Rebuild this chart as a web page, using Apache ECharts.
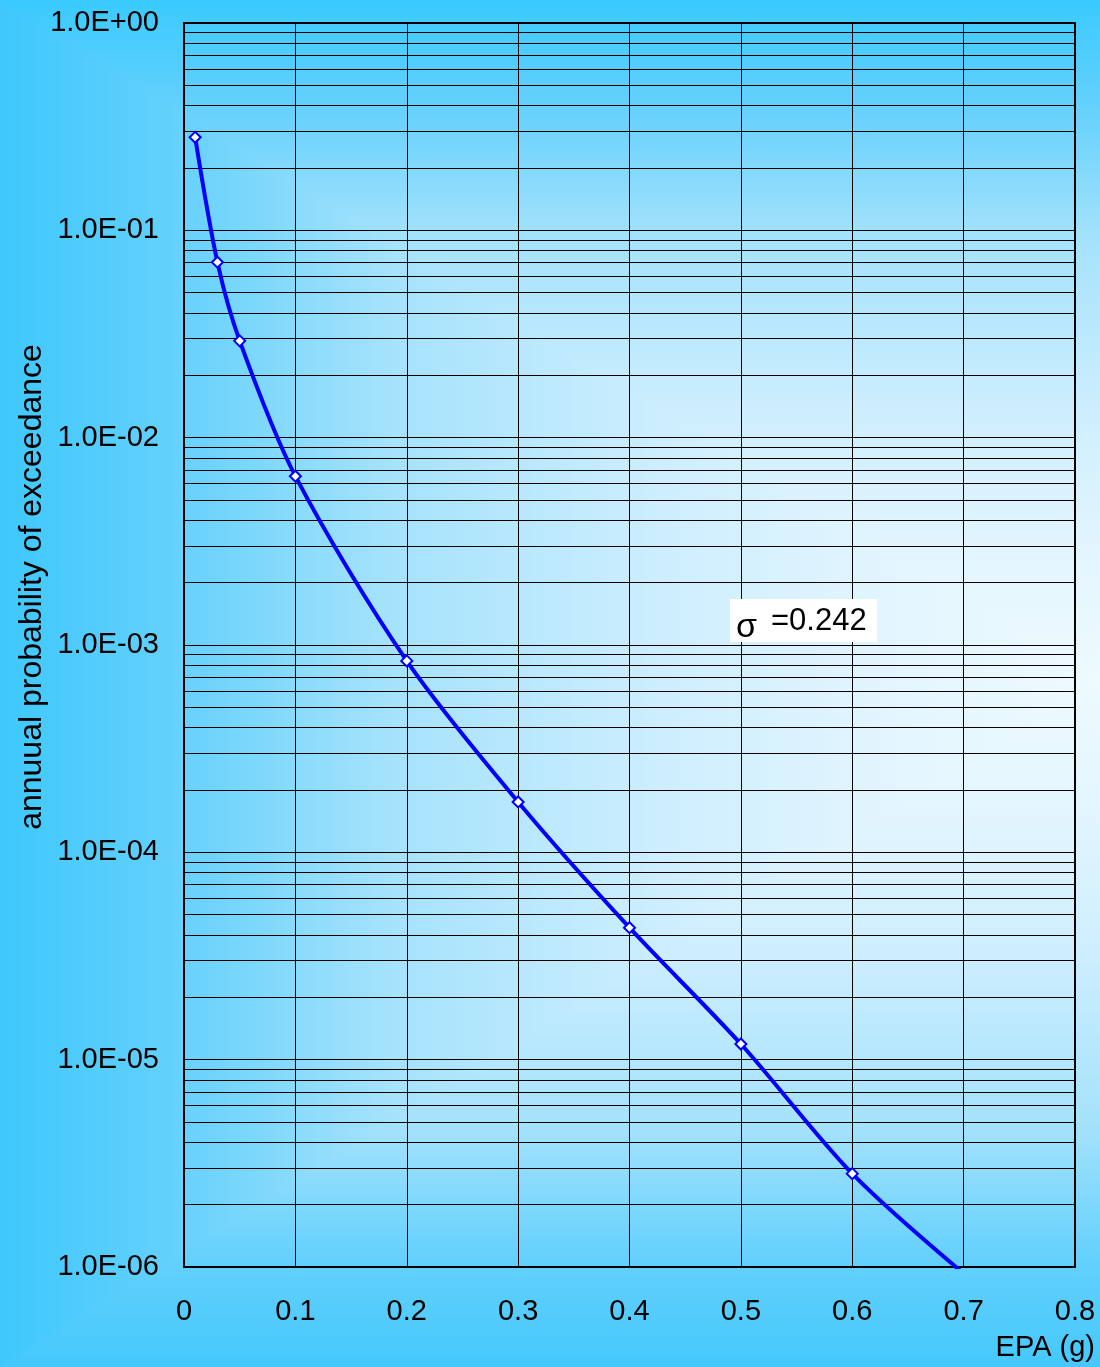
<!DOCTYPE html>
<html>
<head>
<meta charset="utf-8">
<script src="https://cdn.jsdelivr.net/npm/echarts@6/dist/echarts.min.js"></script>
<style>
  html, body { margin: 0; padding: 0; background: #3ccafd; }
  #chart { width: 1100px; height: 1367px; }
</style>
</head>
<body>
<div id="chart"></div>
<script>
// Hazard curve: EPA (g) vs annual probability of exceedance
const epa = [0.01, 0.03, 0.05, 0.1, 0.2, 0.3, 0.4, 0.5, 0.6, 0.7];
const exceedance = [0.281, 0.0702, 0.0293, 0.00652, 8.38e-4, 1.75e-4, 4.33e-5, 1.19e-5, 2.82e-6, 9.3e-7];
const xTickLabels = ['0', '0.1', '0.2', '0.3', '0.4', '0.5', '0.6', '0.7', '0.8'];
const yTickLabels = ['1.0E-06', '1.0E-05', '1.0E-04', '1.0E-03', '1.0E-02', '1.0E-01', '1.0E+00'];
const xTitle = 'EPA (g)';
const yTitle = 'annuual probability of exceedance';
const sigmaSymbol = 'σ';
const sigmaValue = '=0.242';

const W = 1100, H = 1367;
const FONT = '"Liberation Sans", Arial, sans-serif';
const X_MIN = 0, X_MAX = 0.8;

// Rectangular "from centre" background fill, built from gradient regions
const CX = W, CY = 680;
const profile = [[0, null], [0.15, '#62d0fc'], [0.35, '#a4e2fc'], [0.6, '#cdeefe'], [0.8, '#e2f5fe'], [1, '#eefaff']];
function stops(edge) { return profile.map(([o, c]) => ({ offset: o, color: c || edge })); }
function lin(x, y, x2, y2, edge) {
  return { type: 'linear', x, y, x2, y2, global: true, colorStops: stops(edge) };
}

// Minor log gridlines (2..9 within each decade)
const minorValues = [];
for (let e = -6; e < 0; e++) {
  for (let m = 2; m <= 9; m++) minorValues.push(m * Math.pow(10, e));
}

const chart = echarts.init(document.getElementById('chart'), null, { renderer: 'canvas' });

const option = {
  animation: false,
  backgroundColor: 'transparent',
  grid: {
    left: 184, right: 25, top: 23, bottom: 100,
    show: true, borderColor: '#000', borderWidth: 2, backgroundColor: 'transparent'
  },
  xAxis: {
    type: 'value', min: X_MIN, max: X_MAX, interval: 0.1,
    axisLine: { show: false },
    axisTick: { show: true, inside: true, length: 8, lineStyle: { color: '#000' } },
    splitLine: { show: true, lineStyle: { color: '#000', width: 1 } },
    axisLabel: {
      margin: 30, color: '#000', fontSize: 29, fontFamily: FONT,
      formatter: v => xTickLabels[Math.round(v * 10)]
    }
  },
  yAxis: {
    type: 'log', logBase: 10, min: 1e-6, max: 1, splitNumber: 6,
    axisLine: { show: false },
    axisTick: { show: true, inside: true, length: 9, lineStyle: { color: '#000' } },
    splitLine: { show: true, lineStyle: { color: '#000', width: 1 } },
    axisLabel: {
      margin: 25, color: '#000', fontSize: 29, fontFamily: FONT,
      formatter: v => yTickLabels[Math.round(Math.log10(v)) + 6]
    }
  },
  graphic: [
    { type: 'rect', silent: true, z: -100, shape: { x: 0, y: 0, width: W, height: H },
      style: { fill: lin(0, 0, CX, 0, '#3ec8fc') } },
    { type: 'polygon', silent: true, z: -99, shape: { points: [[0, 0], [W, 0], [CX, CY]] },
      style: { fill: lin(0, 0, 0, CY, '#3acafe') } },
    { type: 'polygon', silent: true, z: -99, shape: { points: [[0, H], [W, H], [CX, CY]] },
      style: { fill: lin(0, H, 0, CY, '#45c8fc') } },
    { type: 'text', silent: true, z: 50, x: 32, y: 587, rotation: Math.PI / 2,
      style: { text: yTitle, fill: '#000', fontSize: 32, fontFamily: FONT, align: 'center', verticalAlign: 'middle' } },
    { type: 'text', silent: true, z: 50, x: 1095, y: 1348,
      style: { text: xTitle, fill: '#000', fontSize: 29, fontFamily: FONT, align: 'right', verticalAlign: 'middle' } },
    { type: 'group', z: 50, silent: true, children: [
      { type: 'rect', z: 50, shape: { x: 730, y: 599, width: 147, height: 43 }, style: { fill: '#fff' } },
      { type: 'text', z: 51, x: 736, y: 628,
        style: { text: sigmaSymbol, fill: '#000', fontSize: 34, fontFamily: FONT, align: 'left', verticalAlign: 'middle' } },
      { type: 'text', z: 51, x: 771, y: 621,
        style: { text: sigmaValue, fill: '#000', fontSize: 31, fontFamily: FONT, align: 'left', verticalAlign: 'middle' } }
    ] }
  ],
  series: [
    {
      name: 'minor grid', type: 'lines', coordinateSystem: 'cartesian2d',
      silent: true, z: 1, polyline: false,
      lineStyle: { color: '#000', width: 1, opacity: 1, curveness: 0 },
      data: minorValues.map(v => ({ coords: [[X_MIN, v], [X_MAX, v]] }))
    },
    {
      name: 'hazard', type: 'line', z: 10, clip: true,
      smooth: 0.3,
      data: epa.map((x, i) => ({
        value: [x, exceedance[i]],
        symbol: exceedance[i] < 1e-6 ? 'none' : 'diamond'
      })),
      symbol: 'diamond', symbolSize: 11,
      itemStyle: { color: '#fff', borderColor: '#0000ff', borderWidth: 2 },
      lineStyle: { color: '#0000ff', width: 4 }
    }
  ]
};

chart.setOption(option);
</script>
</body>
</html>
